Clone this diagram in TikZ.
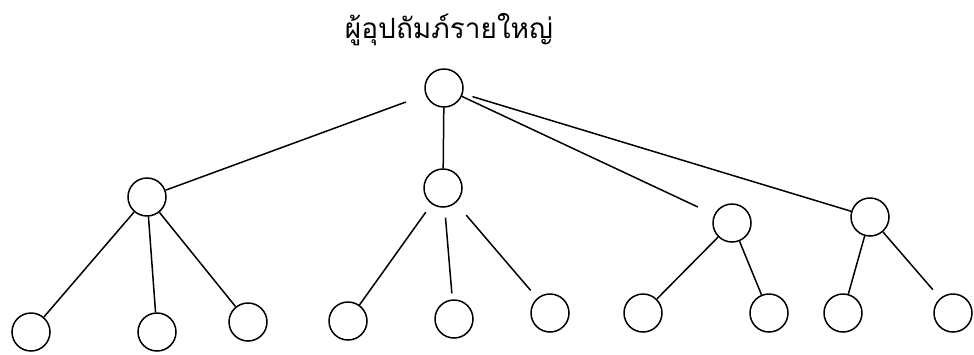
\documentclass[tikz,border=0pt]{standalone}
\usepackage{fontspec}
\newfontfamily\thaifont[Script=Thai]{Loma}
\begin{document}
\begin{tikzpicture}[x=1pt, y=-1pt, every node/.style={draw, circle, line width=1.5pt, minimum size=38pt, inner sep=0pt}, line width=1.5pt]
\useasboundingbox (0,0) rectangle (974,354);
\node[draw=none, minimum size=0pt, font=\thaifont\fontsize{28}{32}\selectfont] (title) at (449,30) {ผู้อุปถัมภ์รายใหญ่};

\node (root) at (444,88) {};

\node (a) at (147,197) {};
\node (b) at (443,188) {};
\node (c) at (732,223) {};
\node (d) at (870,217) {};

\node (a1) at (31,332) {};
\node (a2) at (157,332) {};
\node (a3) at (248,322) {};
\node (b1) at (348,321) {};
\node (b2) at (454,319) {};
\node (b3) at (550,313) {};
\node (c1) at (643,313) {};
\node (c2) at (769,313) {};
\node (d1) at (843,313) {};
\node (d2) at (953,313) {};

\draw[shorten <=21pt] (root) -- (a);
\draw (root) -- (b);
\draw[shorten >=18pt] (root) -- (c);
\draw[shorten <=10pt] (root) -- (d);

\draw (a) -- (a1);
\draw (a) -- (a2);
\draw (a) -- (a3);
\draw[shorten <=10pt] (b) -- (b1);
\draw[shorten <=10pt, shorten >=6pt] (b) -- (b2);
\draw[shorten <=16pt, shorten >=10pt] (b) -- (b3);
\draw (c) -- (c1);
\draw (c) -- (c2);
\draw (d) -- (d1);
\draw[shorten >=11pt] (d) -- (d2);
\end{tikzpicture}
\end{document}
